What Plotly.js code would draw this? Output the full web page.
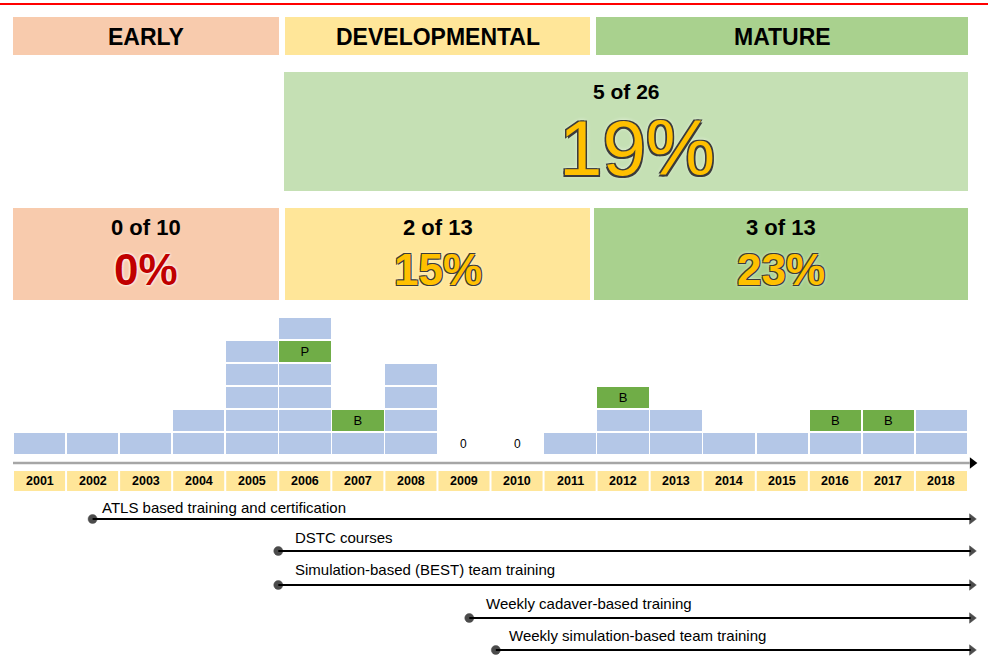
<!DOCTYPE html>
<html>
<head>
<meta charset="utf-8">
<script src="https://cdn.plot.ly/plotly-3.0.1.min.js"></script>
<style>html,body{margin:0;padding:0;background:#fff;}#chart{width:988px;height:665px;}</style>
</head>
<body>
<div id="chart"></div>
<script>
// ---------------- DATA ----------------
const years = [2001,2002,2003,2004,2005,2006,2007,2008,2009,2010,2011,2012,2013,2014,2015,2016,2017,2018];
const yearLabels = ['2001','2002','2003','2004','2005','2006','2007','2008','2009','2010','2011','2012','2013','2014','2015','2016','2017','2018'];
const counts = [1,1,1,2,5,6,2,4,0,0,1,3,2,1,1,2,2,2];
const flagYears = [2006,2007,2012,2016,2017];
const flagLevels = [5,2,3,2,2];
const flagLabels = ['P','B','B','B','B'];
const phaseNames = ['EARLY','DEVELOPMENTAL','MATURE'];
const phaseHits = [0,2,3];
const phaseTotals = [10,13,13];
const programNames = ['ATLS based training and certification','DSTC courses','Simulation-based (BEST) team training','Weekly cadaver-based training','Weekly simulation-based team training'];
const programStart = [2002,2005.5,2005.5,2009.1,2009.6];

// ---------------- GEOMETRY / STYLE ----------------
const W = 988, H = 665;
const colW = 955/18;             // px per year
const X0 = 2000.5 - 13/colW;     // year at px 0
const X1 = X0 + W/colW;
const baseY = 455, unit = 23;
const X = px => px / W;
const Y = py => 1 - py / H;
const BLUE = '#b4c7e7', GREEN = '#70ad47';
const phaseColors = ['#f8cbad','#ffe699','#a9d18e'];
const narrow = '"Liberation Sans Narrow", "Arial Narrow", "Liberation Sans", Arial, sans-serif';
const sans = '"Liberation Sans", Arial, sans-serif';
const endYear = X0 + 975/colW;

const traces = [];
const maxC = Math.max(...counts);
for (let L = 1; L <= maxC; L++) {
  const col = [], txt = [];
  years.forEach((yr, i) => {
    let c = BLUE, t = '';
    flagYears.forEach((fy, j) => { if (fy === yr && flagLevels[j] === L) { c = GREEN; t = flagLabels[j]; } });
    col.push(c); txt.push(t);
  });
  traces.push({
    type: 'bar', x: years, y: counts.map(c => c >= L ? 1 : 0), width: 1,
    marker: {color: col, line: {color: '#ffffff', width: 1.5}},
    text: txt, textposition: 'inside', insidetextanchor: 'middle', constraintext: 'none',
    textfont: {size: 13, color: '#000', family: sans}, hoverinfo: 'skip', showlegend: false
  });
}

// axis line with arrow
traces.push({type: 'scatter', mode: 'lines', x: [2000.5, endYear - 0.1], y: [463, 463], yaxis: 'y2',
  line: {color: '#a6a6a6', width: 2.5}, hoverinfo: 'skip', showlegend: false});
traces.push({type: 'scatter', mode: 'markers', x: [endYear - 0.05], y: [463], yaxis: 'y2',
  marker: {symbol: 'triangle-right', size: 10, color: '#000'}, hoverinfo: 'skip', showlegend: false});

// program timelines
const progLineY = [519, 551, 585, 618, 650];
const progTextY = [507, 537, 569, 603, 635];
const progTextX = [100, 293, 293, 484, 507];
const annotations = [];
programNames.forEach((name, i) => {
  traces.push({type: 'scatter', mode: 'lines', x: [programStart[i], endYear - 0.08], y: [progLineY[i], progLineY[i]], yaxis: 'y2',
    line: {color: '#000', width: 2}, hoverinfo: 'skip', showlegend: false});
  traces.push({type: 'scatter', mode: 'markers', x: [programStart[i], endYear - 0.06], y: [progLineY[i], progLineY[i]], yaxis: 'y2',
    marker: {symbol: ['circle', 'triangle-right'], size: [9, 9], color: '#000', line: {color: '#000', width: 0.5}},
    hoverinfo: 'skip', showlegend: false});
  annotations.push({xref: 'paper', yref: 'paper', x: X(progTextX[i]), y: Y(progTextY[i]), xanchor: 'left', yanchor: 'middle',
    text: name, showarrow: false, font: {family: sans, size: 15, color: '#000'}});
});

const shapes = [];
// red top line
shapes.push({type: 'line', xref: 'paper', yref: 'paper', x0: 0, x1: 1, y0: Y(4), y1: Y(4), line: {color: '#ff0000', width: 2}});
// header boxes
const hdrX = [[13,279],[285,590],[596,968]];
const rowX = [[13,279],[285,590],[594,968]];
phaseNames.forEach((n, i) => {
  shapes.push({type: 'rect', xref: 'paper', yref: 'paper', x0: X(hdrX[i][0]), x1: X(hdrX[i][1]), y0: Y(55), y1: Y(17),
    fillcolor: phaseColors[i], line: {width: 0}, layer: 'below'});
  annotations.push({xref: 'paper', yref: 'paper', x: X((hdrX[i][0] + hdrX[i][1]) / 2), y: Y(37), xanchor: 'center', yanchor: 'middle',
    text: n, showarrow: false, font: {family: narrow, size: 23, color: '#000', weight: 'bold'}});
  shapes.push({type: 'rect', xref: 'paper', yref: 'paper', x0: X(rowX[i][0]), x1: X(rowX[i][1]), y0: Y(300), y1: Y(208),
    fillcolor: phaseColors[i], line: {width: 0}, layer: 'below'});
  const cx = X((rowX[i][0] + rowX[i][1]) / 2);
  annotations.push({xref: 'paper', yref: 'paper', x: cx, y: Y(227), xanchor: 'center', yanchor: 'middle',
    text: phaseHits[i] + ' of ' + phaseTotals[i], showarrow: false, font: {family: narrow, size: 22, color: '#000', weight: 'bold'}});
  const pct = Math.round(100 * phaseHits[i] / phaseTotals[i]);
  const zero = pct === 0;
  annotations.push({xref: 'paper', yref: 'paper', x: cx, y: Y(269), xanchor: 'center', yanchor: 'middle',
    text: pct + '%', showarrow: false,
    font: {family: narrow, size: 44, color: zero ? '#c00000' : '#ffc000', weight: 'bold',
      shadow: zero ? '0 0 3px #ffffff, 0 0 3px #ffffff' : '-1px -1px 0 #3b3b3b, 1px -1px 0 #3b3b3b, -1px 1px 0 #3b3b3b, 1px 1px 0 #3b3b3b, 0 0 4px #ffffff'}});
});
// combined box (developmental + mature)
const combHits = phaseHits[1] + phaseHits[2];
const combTot = phaseTotals[1] + phaseTotals[2];
shapes.push({type: 'rect', xref: 'paper', yref: 'paper', x0: X(284), x1: X(968), y0: Y(191), y1: Y(72),
  fillcolor: '#c5e0b4', line: {width: 0}, layer: 'below'});
annotations.push({xref: 'paper', yref: 'paper', x: X(626), y: Y(92), xanchor: 'center', yanchor: 'middle',
  text: combHits + ' of ' + combTot, showarrow: false, font: {family: sans, size: 21, color: '#000', weight: 'bold'}});
annotations.push({xref: 'paper', yref: 'paper', x: X(637), y: Y(148), xanchor: 'center', yanchor: 'middle',
  text: Math.round(100 * combHits / combTot) + '%', showarrow: false,
  font: {family: sans, size: 78, color: '#ffc000',
    shadow: '-1.5px -1.5px 0 #3b3b3b, 1.5px -1.5px 0 #3b3b3b, -1.5px 1.5px 0 #3b3b3b, 1.5px 1.5px 0 #3b3b3b, 0 0 5px #ffffff'}});

// year label boxes
const gap = 1 / colW;
years.forEach((yr, i) => {
  shapes.push({type: 'rect', xref: 'x', yref: 'paper', x0: yr - 0.5 + gap, x1: yr + 0.5 - gap, y0: Y(491), y1: Y(471),
    fillcolor: '#ffe699', line: {width: 0}, layer: 'below'});
  annotations.push({xref: 'x', yref: 'paper', x: yr, y: Y(481), xanchor: 'center', yanchor: 'middle',
    text: yearLabels[i], showarrow: false, font: {family: sans, size: 12.5, color: '#000', weight: 'bold'}});
  if (counts[i] === 0) {
    annotations.push({xref: 'x', yref: 'y', x: yr, y: 0.5, xanchor: 'center', yanchor: 'middle',
      text: '0', showarrow: false, font: {family: sans, size: 12, color: '#000'}});
  }
});

const layout = {
  width: W, height: H, margin: {l: 0, r: 0, t: 0, b: 0},
  paper_bgcolor: '#fff', plot_bgcolor: '#fff',
  barmode: 'stack', bargap: 0, showlegend: false,
  xaxis: {range: [X0, X1], visible: false, fixedrange: true},
  yaxis: {range: [(baseY - H) / unit, baseY / unit], visible: false, fixedrange: true},
  yaxis2: {range: [H, 0], overlaying: 'y', visible: false, fixedrange: true},
  shapes: shapes, annotations: annotations
};
Plotly.newPlot('chart', traces, layout, {displayModeBar: false, staticPlot: true});
</script>
</body>
</html>
